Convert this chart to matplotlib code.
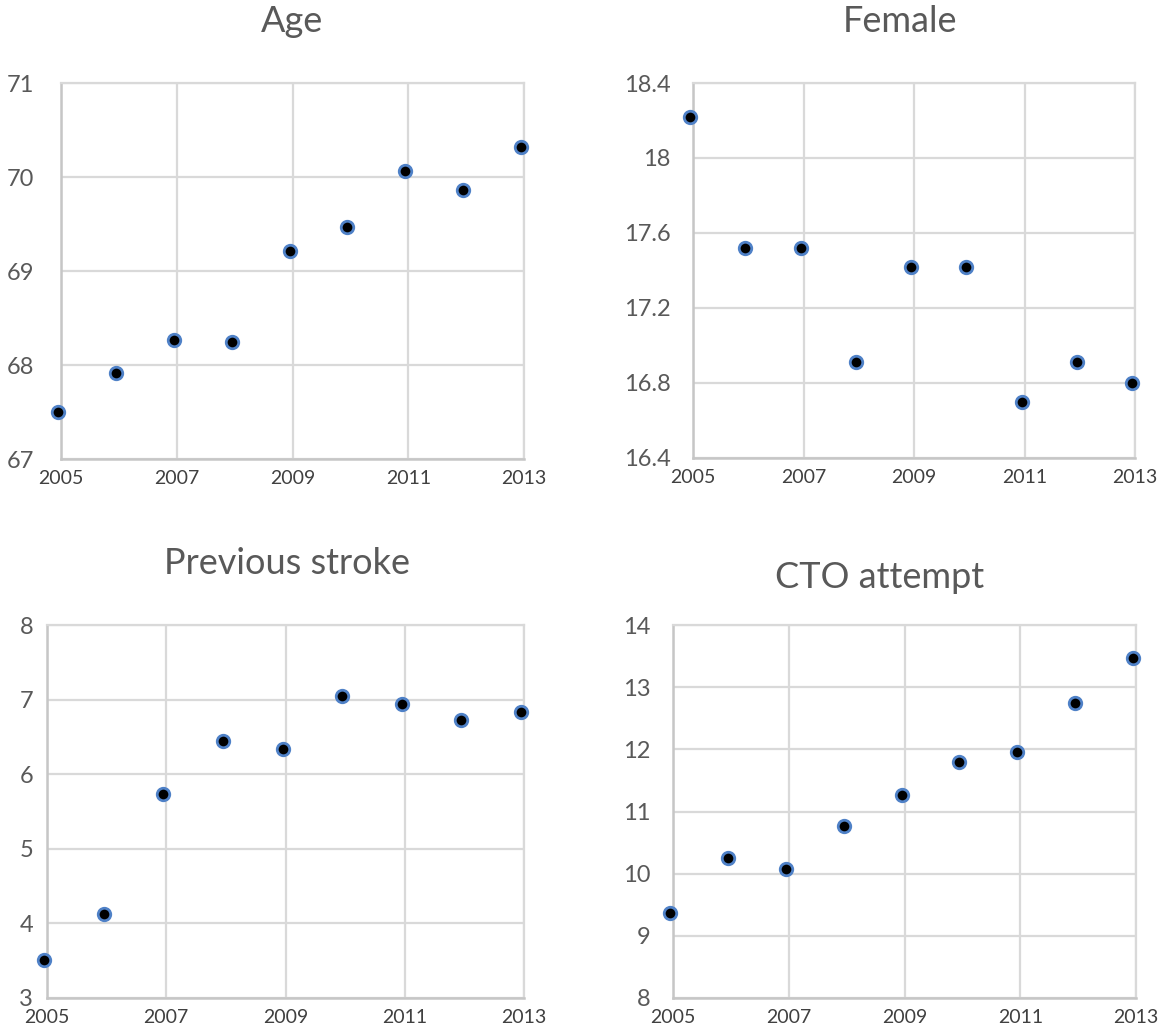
import matplotlib
matplotlib.use("Agg")
import matplotlib.pyplot as plt

plt.rcParams['font.family'] = ['Lato', 'DejaVu Sans']

years = [2005, 2006, 2007, 2008, 2009, 2010, 2011, 2012, 2013]
age = [67.50, 67.92, 68.27, 68.24, 69.21, 69.47, 70.06, 69.86, 70.32]
female = [18.22, 17.52, 17.52, 16.91, 17.42, 17.42, 16.70, 16.91, 16.80]
prev_stroke = [3.51, 4.12, 5.73, 6.44, 6.34, 7.05, 6.94, 6.73, 6.83]
cto_attempt = [9.36, 10.25, 10.07, 10.76, 11.27, 11.79, 11.96, 12.75, 13.47]

titles = ["Age", "Female", "Previous stroke", "CTO attempt"]
x_ticks = [2005, 2007, 2009, 2011, 2013]
y_ticks_age = [67, 68, 69, 70, 71]
y_ticks_female = [16.4, 16.8, 17.2, 17.6, 18.0, 18.4]
y_labels_female = ["16.4", "16.8", "17.2", "17.6", "18", "18.4"]
y_ticks_stroke = [3, 4, 5, 6, 7, 8]
y_ticks_cto = [8, 9, 10, 11, 12, 13, 14]

W, H = 1160, 1036
fig = plt.figure(figsize=(W / 100, H / 100), dpi=100)

def box(l, r, t, b):
    return [l / W, 1 - b / H, (r - l) / W, (b - t) / H]

panels = [
    (box(61, 524, 83, 459), age, y_ticks_age, [str(v) for v in y_ticks_age], 19, (292, 22)),
    (box(693, 1135, 83, 458), female, y_ticks_female, y_labels_female, 16, (900, 22)),
    (box(47, 524, 625, 998), prev_stroke, y_ticks_stroke, [str(v) for v in y_ticks_stroke], 10, (287, 564)),
    (box(673, 1136, 625, 998), cto_attempt, y_ticks_cto, [str(v) for v in y_ticks_cto], 16, (880, 578)),
]

grid_c = '#D9D9D9'
axis_c = '#C6C6C6'
text_c = '#595959'
shift = 0.05

for (rect, vals, yt, ylab, ypad, tpos), title in zip(panels, titles):
    ax = fig.add_axes(rect)
    ax.plot(years, vals, linestyle='none', marker='o', markersize=9,
            markerfacecolor='black', markeredgecolor='#4F81C7',
            markeredgewidth=2.0, clip_on=False, zorder=5)
    ax.set_xlim(x_ticks[0] + shift, x_ticks[-1] + shift)
    ax.set_xticks([x + shift for x in x_ticks])
    ax.set_xticklabels([str(x) for x in x_ticks])
    ax.set_ylim(yt[0], yt[-1])
    ax.set_yticks(yt)
    ax.set_yticklabels(ylab)
    ax.grid(True, color=grid_c, linewidth=1.6, zorder=0)
    ax.set_axisbelow(True)
    for s in ['top', 'right']:
        ax.spines[s].set_color(grid_c)
        ax.spines[s].set_linewidth(1.6)
    for s in ['left', 'bottom']:
        ax.spines[s].set_color(axis_c)
        ax.spines[s].set_linewidth(1.8)
    ax.tick_params(axis='both', length=0)
    ax.tick_params(axis='y', labelsize=17, labelcolor=text_c, pad=ypad)
    ax.tick_params(axis='x', labelsize=14, labelcolor='#404040', pad=8)
    fig.text(tpos[0] / W, 1 - tpos[1] / H, title, ha='center', va='center',
             fontsize=26, color=text_c, fontweight='normal')

fig.savefig("out.png", dpi=100, facecolor='white')
